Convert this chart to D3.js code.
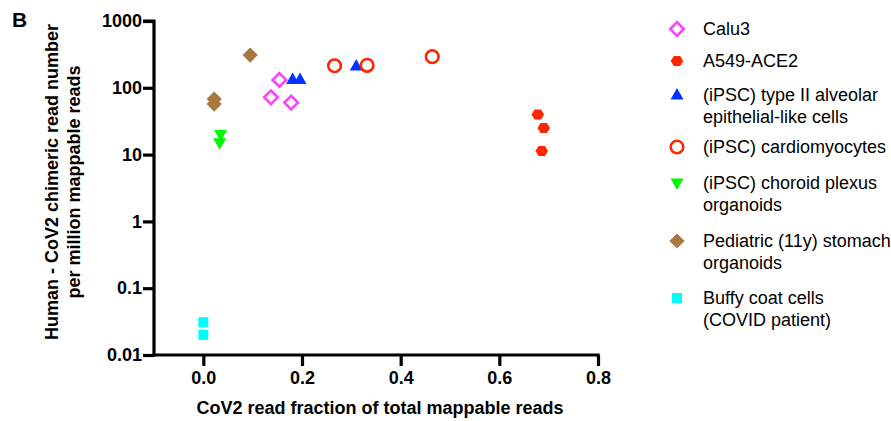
<!DOCTYPE html>
<html>
<head>
<meta charset="utf-8">
<script src="https://cdn.jsdelivr.net/npm/d3@7"></script>
<style>
  body { margin: 0; background: #fff; }
  text { font-family: "Liberation Sans", Arial, sans-serif; }
</style>
</head>
<body>
<script>
// values
var seriesNames = ["Calu3", "A549-ACE2", "(iPSC) type II alveolar|epithelial-like cells", "(iPSC) cardiomyocytes",
  "(iPSC) choroid plexus|organoids", "Pediatric (11y) stomach|organoids", "Buffy coat cells|(COVID patient)"];
var calu3X = [0.154, 0.137, 0.178],  calu3Y = [131, 72, 60];
var a549X = [0.678, 0.690, 0.686],   a549Y = [40, 25, 11.3];
var at2X = [0.181, 0.196, 0.310],    at2Y = [133, 133, 212];
var cardioX = [0.266, 0.332, 0.464], cardioY = [214, 217, 292];
var choroidX = [0.035, 0.033],       choroidY = [20, 15];
var stomachX = [0.095, 0.022, 0.022], stomachY = [309, 68, 57];
var buffyX = [0.0, 0.0],             buffyY = [0.031, 0.020];
var xTicks = [0.0, 0.2, 0.4, 0.6, 0.8];
var yTicks = [0.01, 0.1, 1, 10, 100, 1000];
var yTickLabels = ["0.01", "0.1", "1", "10", "100", "1000"];

var seriesX = [calu3X, a549X, at2X, cardioX, choroidX, stomachX, buffyX];
var seriesY = [calu3Y, a549Y, at2Y, cardioY, choroidY, stomachY, buffyY];
var colors = ["#ff40ff", "#ff2600", "#0433ff", "#ff2600", "#00f900", "#a9773f", "#00fdff"];
var shapes = ["diamondOpen", "hexagon", "triUp", "circleOpen", "triDown", "diamond", "square"];

var x = d3.scaleLinear().domain([-0.1, 0.8]).range([154, 598]);
var y = d3.scaleLog().domain([0.01, 1000]).range([355, 21]);

var svg = d3.select("body").append("svg").attr("width", 891).attr("height", 421);

function shapePath(s) {
  if (s == "diamond" || s == "diamondOpen") { var r = s == "diamond" ? 7.6 : 6.8; return "M0," + (-r) + "L" + r + ",0L0," + r + "L" + (-r) + ",0Z"; }
  if (s == "hexagon") { return "M-6.3,0L-3.2,-5L3.2,-5L6.3,0L3.2,5L-3.2,5Z"; }
  if (s == "triUp") { return "M0,-7L6.5,4.5L-6.5,4.5Z"; }
  if (s == "triDown") { return "M0,7L6.5,-4.5L-6.5,-4.5Z"; }
  if (s == "square") { return "M-5,-5L5,-5L5,5L-5,5Z"; }
  return d3.arc()({innerRadius: 0, outerRadius: 6.3, startAngle: 0, endAngle: 2 * Math.PI});
}
function drawMark(g, s, c) {
  var open = s == "diamondOpen" || s == "circleOpen";
  g.append("path").attr("d", shapePath(s))
    .attr("fill", open ? "none" : c)
    .attr("stroke", open ? c : "none")
    .attr("stroke-width", open ? 2.6 : 0);
}

// axes
var yAxis = d3.axisLeft(y).tickValues(yTicks).tickFormat(function(d, i) { return yTickLabels[i]; }).tickSize(11).tickPadding(1);
var xAxis = d3.axisBottom(x).tickValues(xTicks).tickFormat(d3.format(".1f")).tickSize(11).tickPadding(5);

var gy = svg.append("g").attr("transform", "translate(154,0)").call(yAxis);
var gx = svg.append("g").attr("transform", "translate(0,355)").call(xAxis);
[gx, gy].forEach(function(g) {
  g.select(".domain").attr("stroke", "#000").attr("stroke-width", 3.2);
  g.selectAll(".tick line").attr("stroke", "#000").attr("stroke-width", 3.2);
  g.selectAll(".tick text").attr("fill", "#000").attr("font-size", 18).attr("font-weight", "bold");
});
gx.select(".domain").attr("d", "M152.4,0H599.6");
gy.select(".domain").attr("d", "M-11,21H0V356.6");

// points
seriesX.forEach(function(xs, k) {
  xs.forEach(function(v, i) {
    var g = svg.append("g").attr("transform", "translate(" + x(v) + "," + y(seriesY[k][i]) + ")");
    drawMark(g, shapes[k], colors[k]);
  });
});

// axis titles
svg.append("text").attr("x", 380).attr("y", 414).attr("text-anchor", "middle")
  .attr("font-size", 18).attr("font-weight", "bold").text("CoV2 read fraction of total mappable reads");
var yl = svg.append("text").attr("transform", "translate(58,182) rotate(-90)").attr("text-anchor", "middle")
  .attr("font-size", 18).attr("font-weight", "bold");
yl.append("tspan").attr("x", 0).attr("y", 0).text("Human - CoV2 chimeric read number");
yl.append("tspan").attr("x", 0).attr("y", 22).text("per million mappable reads");

svg.append("text").attr("x", 12).attr("y", 27).attr("font-size", 21).attr("font-weight", "bold").text("B");

// legend
var legY = [29, 61, 95, 147, 183, 241, 298];
seriesNames.forEach(function(name, k) {
  var g = svg.append("g").attr("transform", "translate(677," + legY[k] + ")");
  drawMark(g, shapes[k], colors[k]);
  var t = svg.append("text").attr("x", 703).attr("y", legY[k] + 6).attr("font-size", 18).attr("fill", "#000");
  name.split("|").forEach(function(line, j) {
    t.append("tspan").attr("x", 703).attr("dy", j ? 22 : 0).text(line);
  });
});
</script>
</body>
</html>
